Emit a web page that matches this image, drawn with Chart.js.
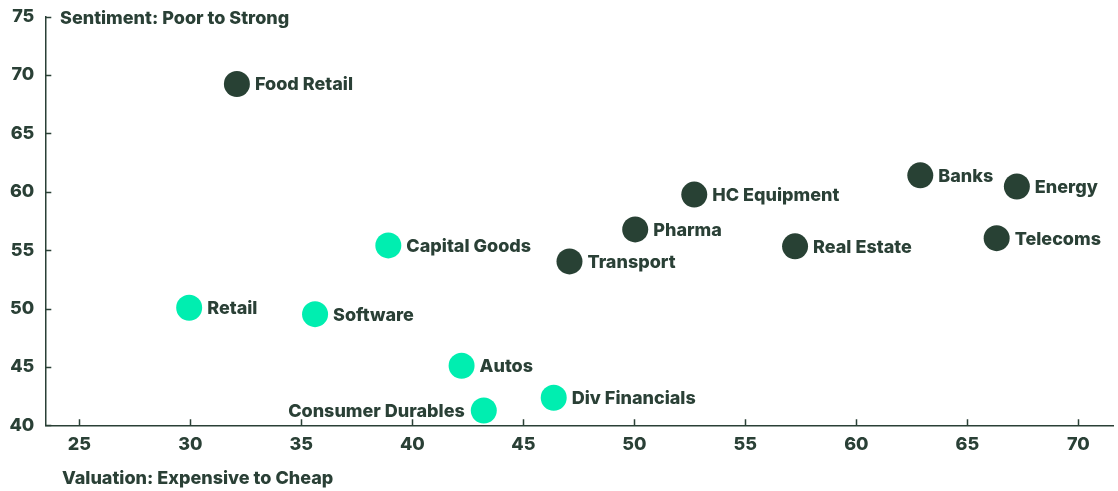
<!DOCTYPE html>
<html>
<head>
<meta charset="utf-8">
<script src="https://cdn.jsdelivr.net/npm/chart.js@4.4.1/dist/chart.umd.min.js"></script>
<style>
  html, body { margin: 0; padding: 0; background: #ffffff; }
  #wrap { position: relative; width: 1118px; height: 491px; }
</style>
</head>
<body>
<div id="wrap"><canvas id="c" width="1118" height="491"></canvas></div>
<script>
// ---- Data ----
const darkNames = ["Food Retail", "Banks", "Energy", "Telecoms", "HC Equipment", "Pharma", "Real Estate", "Transport"];
const darkX     = [32.10, 62.88, 67.23, 66.32, 52.70, 50.04, 57.24, 47.08];
const darkY     = [69.23, 61.41, 60.46, 56.03, 59.76, 56.78, 55.33, 54.04];

const tealNames = ["Capital Goods", "Retail", "Software", "Autos", "Consumer Durables", "Div Financials"];
const tealX     = [38.92, 29.95, 35.62, 42.22, 43.22, 46.37];
const tealY     = [55.41, 50.07, 49.52, 45.10, 41.27, 42.36];

const leftLabels = ["Consumer Durables"];

const xTicks = [25, 30, 35, 40, 45, 50, 55, 60, 65, 70];
const yTicks = [40, 45, 50, 55, 60, 65, 70, 75];

const xTitle = "Valuation: Expensive to Cheap";
const yTitle = "Sentiment: Poor to Strong";

// ---- Styles ----
const DARK = "#284134";
const TEAL = "#00EEB0";
const TEXT = "#2A4036";
const FONT = "Inter, 'Noto Sans', sans-serif";

const toPts = (xs, ys) => xs.map((x, i) => ({ x: x, y: ys[i] }));

const labelPlugin = {
  id: "pointLabels",
  afterDatasetsDraw(chart) {
    const ctx = chart.ctx;
    ctx.save();
    ctx.font = "800 18px " + FONT;
    ctx.fillStyle = TEXT;
    ctx.textBaseline = "middle";
    chart.data.datasets.forEach((ds, di) => {
      const meta = chart.getDatasetMeta(di);
      meta.data.forEach((el, i) => {
        const name = ds.names[i];
        if (leftLabels.includes(name)) {
          ctx.textAlign = "right";
          ctx.fillText(name, el.x - 19, el.y + 1);
        } else {
          ctx.textAlign = "left";
          ctx.fillText(name, el.x + 18, el.y + 1);
        }
      });
    });
    ctx.restore();
  }
};

const axisDecor = {
  id: "axisDecor",
  afterDraw(chart) {
    const ctx = chart.ctx;
    const xs = chart.scales.x, ys = chart.scales.y;
    const area = chart.chartArea;
    ctx.save();
    ctx.strokeStyle = TEXT;
    ctx.lineWidth = 1.5;
    ctx.beginPath();
    xTicks.forEach(v => {
      const px = Math.round(xs.getPixelForValue(v)) + 0.5;
      ctx.moveTo(px, area.bottom);
      ctx.lineTo(px, area.bottom - 6);
    });
    yTicks.forEach(v => {
      const py = Math.round(ys.getPixelForValue(v)) + 0.5;
      ctx.moveTo(area.left, py);
      ctx.lineTo(area.left + 6, py);
    });
    ctx.stroke();
    ctx.fillStyle = TEXT;
    ctx.font = "800 18px " + FONT;
    ctx.textAlign = "left";
    ctx.textBaseline = "middle";
    ctx.fillText(yTitle, 60, 18.5);
    ctx.fillText(xTitle, 62, 478.5);
    ctx.restore();
  }
};

new Chart(document.getElementById("c"), {
  type: "scatter",
  data: {
    datasets: [
      { label: "Dark", names: darkNames, data: toPts(darkX, darkY),
        backgroundColor: DARK, borderColor: DARK, pointRadius: 13, pointHoverRadius: 13, borderWidth: 0 },
      { label: "Teal", names: tealNames, data: toPts(tealX, tealY),
        backgroundColor: TEAL, borderColor: TEAL, pointRadius: 13, pointHoverRadius: 13, borderWidth: 0 }
    ]
  },
  options: {
    responsive: false,
    animation: false,
    events: [],
    layout: { autoPadding: false, padding: { top: 16.7, right: 5, left: 0, bottom: 0 } },
    plugins: { legend: { display: false }, tooltip: { enabled: false } },
    scales: {
      x: {
        type: "linear",
        min: 23.47,
        max: 71.56,
        afterBuildTicks: s => { s.ticks = xTicks.map(v => ({ value: v })); },
        afterFit: s => { s.height = 65.7; s.paddingLeft = 0; s.paddingRight = 0; },
        grid: { display: true, drawOnChartArea: false, drawTicks: false },
        border: { display: true, color: TEXT, width: 1.5 },
        ticks: { color: TEXT, font: { family: FONT, size: 18, weight: "800" }, padding: 8, maxRotation: 0, autoSkip: false }
      },
      y: {
        type: "linear",
        min: 40,
        max: 75,
        afterBuildTicks: s => { s.ticks = yTicks.map(v => ({ value: v })); },
        afterFit: s => { s.width = 45.3; s.paddingTop = 0; s.paddingBottom = 0; },
        grid: { display: true, drawOnChartArea: false, drawTicks: false },
        border: { display: true, color: TEXT, width: 1.5 },
        ticks: { color: TEXT, font: { family: FONT, size: 18, weight: "800" }, padding: 11, autoSkip: false }
      }
    }
  },
  plugins: [labelPlugin, axisDecor]
});
</script>
</body>
</html>
